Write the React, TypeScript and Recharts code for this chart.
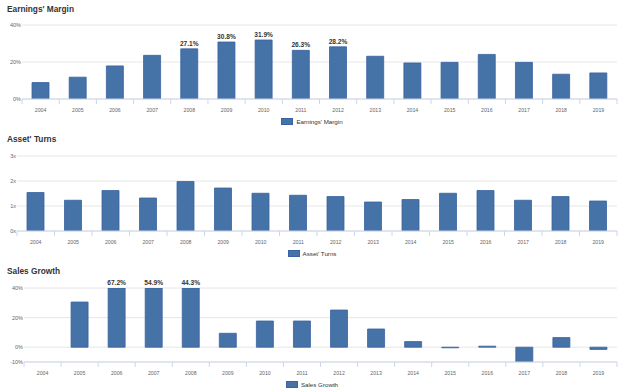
import { BarChart, Bar, XAxis, YAxis, CartesianGrid, LabelList } from 'recharts';

const years = ['2004', '2005', '2006', '2007', '2008', '2009', '2010', '2011', '2012', '2013', '2014', '2015', '2016', '2017', '2018', '2019'];

const earningsMargin = [8.9, 11.8, 17.9, 23.6, 27.1, 30.8, 31.9, 26.3, 28.2, 23.1, 19.5, 19.8, 24.1, 19.8, 13.4, 14.1];
const earningsLabeled = ['2008', '2009', '2010', '2011', '2012'];

const assetTurns = [1.54, 1.23, 1.62, 1.32, 1.98, 1.72, 1.51, 1.43, 1.38, 1.16, 1.26, 1.51, 1.62, 1.23, 1.38, 1.2];

const salesGrowth = [null, 30.5, 67.2, 54.9, 44.3, 9.4, 17.7, 17.7, 25.1, 12.3, 3.8, -0.4, 0.7, -10, 6.5, -1.5];
const salesLabeled = ['2006', '2007', '2008'];

const pctTicks = [0, 20, 40];
const turnTicks = [0, 1, 2, 3];
const salesTicks = [-10, 0, 20, 40];

const BLUE = '#4572A7';
const FONT = '"Liberation Sans", Arial, sans-serif';

const marginRows = years.map((y, i) => ({
  year: y,
  value: earningsMargin[i],
  label: earningsLabeled.includes(y) ? earningsMargin[i].toFixed(1) + '%' : '',
}));

const turnRows = years.map((y, i) => ({ year: y, value: assetTurns[i] }));

const salesRows = years.map((y, i) => {
  const v = salesGrowth[i];
  return {
    year: y,
    value: v == null ? null : Math.max(-10, Math.min(40, v)),
    label: salesLabeled.includes(y) && v != null ? v.toFixed(1) + '%' : '',
  };
});

const YearTick = (props: any) => {
  const { x, y, payload, index, width } = props;
  const band = (width || 594) / years.length;
  return (
    <g>
      <line x1={x - band / 2} y1={y} x2={x - band / 2} y2={y + 5} stroke="#ccd6eb" />
      {index === years.length - 1 && (
        <line x1={x + band / 2} y1={y} x2={x + band / 2} y2={y + 5} stroke="#ccd6eb" />
      )}
      <text x={x} y={y + 13} textAnchor="middle" fontSize={5.2} fill="#666" fontFamily={FONT}>
        {payload.value}
      </text>
    </g>
  );
};

function Panel(props: {
  top: number;
  height: number;
  title: string;
  titleY: number;
  legend: string;
  legendY: number;
  rows: any[];
  ticks: number[];
  domain: [number, number];
  unit: string;
  yWidth: number;
  marginTop: number;
  marginBottom: number;
  labels?: boolean;
}) {
  const p = props;
  return (
    <div style={{ position: 'absolute', left: 0, top: p.top, width: 624, height: p.height }}>
      <div
        style={{
          position: 'absolute',
          left: 7,
          top: p.titleY - 6,
          fontFamily: FONT,
          fontWeight: 'bold',
          fontSize: 8.3,
          color: '#333',
          lineHeight: '12px',
        }}
      >
        {p.title}
      </div>
      <BarChart
        width={624}
        height={p.height}
        data={p.rows}
        margin={{ top: p.marginTop, right: 7, bottom: p.marginBottom, left: 0 }}
        barCategoryGap={0}
      >
        <CartesianGrid horizontal vertical={false} stroke="#e6e6e6" />
        <XAxis
          dataKey="year"
          height={16}
          axisLine={{ stroke: '#ccd6eb' }}
          tickLine={false}
          tickSize={0}
          tickMargin={0}
          interval={0}
          tick={<YearTick />}
        />
        <YAxis
          width={p.yWidth}
          domain={p.domain}
          ticks={p.ticks}
          allowDataOverflow
          axisLine={false}
          tickLine={false}
          tickSize={0}
          tickMargin={1}
          tickFormatter={(v: number) => v + p.unit}
          tick={{ fontSize: 5.5, fill: '#666', fontFamily: FONT }}
        />
        <Bar dataKey="value" fill={BLUE} stroke="#3a62a0" strokeWidth={0.8} barSize={17} isAnimationActive={false}>
          {p.labels && (
            <LabelList
              dataKey="label"
              position="top"
              offset={3}
              style={{ fontSize: 6.6, fontWeight: 'bold', fill: '#333', fontFamily: FONT }}
            />
          )}
        </Bar>
      </BarChart>
      <div
        style={{
          position: 'absolute',
          left: 0,
          width: 624,
          top: p.legendY - 4,
          height: 8,
          display: 'flex',
          justifyContent: 'center',
          alignItems: 'center',
          fontFamily: FONT,
          fontSize: 6.2,
          color: '#333',
        }}
      >
        <div style={{ width: 10, height: 5, background: BLUE, border: '0.5px solid #3a62a0', marginRight: 3 }} />
        <span>{p.legend}</span>
      </div>
    </div>
  );
}

export default function App() {
  return (
    <div style={{ position: 'absolute', left: 0, top: 0, width: 624, height: 392, background: '#fff' }}>
      <Panel
        top={0}
        height={130}
        title="Earnings' Margin"
        titleY={9}
        legend="Earnings' Margin"
        legendY={121}
        rows={marginRows}
        ticks={pctTicks}
        domain={[0, 40]}
        unit="%"
        yWidth={22}
        marginTop={25}
        marginBottom={15}
        labels
      />
      <Panel
        top={130}
        height={130}
        title="Asset' Turns"
        titleY={9}
        legend="Asset' Turns"
        legendY={123}
        rows={turnRows}
        ticks={turnTicks}
        domain={[0, 3]}
        unit="x"
        yWidth={17}
        marginTop={26}
        marginBottom={13}
      />
      <Panel
        top={260}
        height={132}
        title="Sales Growth"
        titleY={11}
        legend="Sales Growth"
        legendY={124}
        rows={salesRows}
        ticks={salesTicks}
        domain={[-10, 40]}
        unit="%"
        yWidth={24}
        marginTop={28}
        marginBottom={14}
        labels
      />
    </div>
  );
}
